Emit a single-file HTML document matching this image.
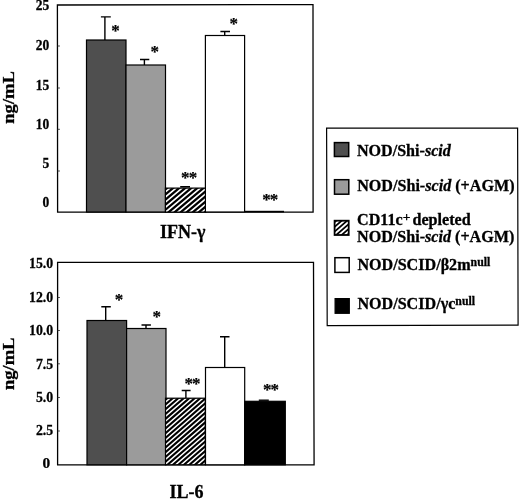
<!DOCTYPE html>
<html lang="en">
<head>
<meta charset="utf-8">
<title>Cytokine production chart</title>
<style>
html,body{margin:0;padding:0;background:#fff;}
body{width:520px;height:499px;overflow:hidden;}
svg{display:block;}
text{font-family:"Liberation Serif","DejaVu Serif",serif;font-weight:bold;fill:#000;}
.tick{font-size:15px;text-anchor:end;stroke:#000;stroke-width:0.3px;}
.tb{font-size:13.7px;stroke:#000;stroke-width:0.25px;}
.ax{font-size:18px;stroke:#000;stroke-width:0.3px;}
.lg{font-size:16.12px;stroke:#000;stroke-width:0.3px;}
.st{font-size:17px;text-anchor:middle;stroke:#000;stroke-width:0.2px;}
.s2{letter-spacing:-0.9px;}
.ln{stroke:#000;stroke-width:1.2;fill:none;}
</style>
</head>
<body>
<svg width="520" height="499" viewBox="0 0 520 499">
<rect x="0" y="0" width="520" height="499" fill="#fff"/>

<!-- ===== top plot ===== -->
<polygon class="ln" style="stroke-width:1.3px" points="57.4,5.0 313.0,4.6 313.1,212.2 57.6,212.2"/>
<g class="ln" style="stroke-width:0.9;stroke:#333">
<line x1="57.6" y1="46" x2="59.9" y2="46"/>
<line x1="57.6" y1="88" x2="59.9" y2="88"/>
<line x1="57.6" y1="129.3" x2="59.9" y2="129.3"/>
<line x1="57.6" y1="171" x2="59.9" y2="171"/>
</g>
<text class="tick" transform="translate(49.3,9.8) scale(0.9,1)">25</text>
<text class="tick" transform="translate(49.3,49.8) scale(0.9,1)">20</text>
<text class="tick" transform="translate(49.3,89.7) scale(0.9,1)">15</text>
<text class="tick" transform="translate(49.3,129.3) scale(0.9,1)">10</text>
<text class="tick" transform="translate(49.3,168) scale(0.9,1)">5</text>
<text class="tick" transform="translate(49.3,207.2) scale(0.9,1)">0</text>

<!-- error bars top -->
<g class="ln" style="stroke-width:1.4">
<path d="M104.9 40V16.9M100.9 16.9H110.8" stroke-width="1.4"/>
<path d="M144.4 65V59.5M140 59.5H149.3"/>
<path d="M180.2 186.8H190" stroke-width="1.6"/>
<path d="M224.7 35.5V31.5M220.4 31.5H230"/>
</g>
<!-- bars top -->
<rect class="ln" x="86.5" y="40" width="39.5" height="172" style="fill:#4f4f4f"/>
<rect class="ln" x="126" y="65" width="39.5" height="147" style="fill:#9b9b9b"/>
<clipPath id="h1"><rect x="165.40" y="188.10" width="40.50" height="24.00"/></clipPath>
<rect x="165.40" y="188.10" width="40.50" height="24.00" fill="#000"/>
<path clip-path="url(#h1)" d="M139.72 203.31L196.79 155.43M142.23 206.30L199.30 158.41M144.73 209.29L201.80 161.40M147.24 212.28L204.31 164.39M149.75 215.26L206.82 167.38M152.26 218.25L209.33 170.36M154.76 221.24L211.83 173.35M157.27 224.23L214.34 176.34M159.78 227.22L216.85 179.33M162.28 230.20L219.35 182.32M164.79 233.19L221.86 185.30M167.30 236.18L224.37 188.29M169.80 239.17L226.87 191.28M172.31 242.15L229.38 194.27M174.82 245.14L231.89 197.25" stroke="#fff" stroke-width="1.65" fill="none"/>
<rect class="ln" style="stroke-width:1.2px" x="165.40" y="188.10" width="40.50" height="24.00"/>

<rect class="ln" x="205.4" y="35.5" width="39.2" height="176.5" style="fill:#fff"/>
<rect x="245" y="210.8" width="39" height="1.6" fill="#000"/>

<text class="st" x="115.5" y="36">*</text>
<text class="st" x="154.8" y="57">*</text>
<text class="st s2" x="188.7" y="183">**</text>
<text class="st" x="233.8" y="29">*</text>
<text class="st s2" x="269.8" y="205">**</text>

<text class="ax" x="160" y="238">IFN-γ</text>
<text class="ax" transform="translate(14,123.7) rotate(-90)" textLength="52.6" lengthAdjust="spacingAndGlyphs" style="font-size:16.5px;stroke:#000;stroke-width:0.3px">ng/mL</text>

<!-- ===== bottom plot ===== -->
<polygon class="ln" style="stroke-width:1.3px" points="57.6,262.4 313.5,262.3 314.1,464.9 57.6,464.8"/>
<g class="ln" style="stroke-width:0.9;stroke:#333">
<line x1="57.6" y1="297.5" x2="59.9" y2="297.5"/>
<line x1="57.6" y1="330.5" x2="59.9" y2="330.5"/>
<line x1="57.6" y1="363.8" x2="59.9" y2="363.8"/>
<line x1="57.6" y1="397.5" x2="59.9" y2="397.5"/>
<line x1="57.6" y1="431" x2="59.9" y2="431"/>
</g>
<text class="tick tb" transform="translate(53.2,268.3) scale(1.01,1)">15.0</text>
<text class="tick tb" transform="translate(53.2,302) scale(1.01,1)">12.0</text>
<text class="tick tb" transform="translate(53.2,335.1) scale(1.01,1)">10.0</text>
<text class="tick tb" transform="translate(53.2,368.5) scale(1.01,1)">7.5</text>
<text class="tick tb" transform="translate(53.2,402) scale(1.01,1)">5.0</text>
<text class="tick tb" transform="translate(53.2,435.2) scale(1.01,1)">2.5</text>
<text class="tick tb" transform="translate(50.2,467.6) scale(1.12,1)">0</text>

<g class="ln" style="stroke-width:1.4">
<path d="M105.7 320.5V306.8M101.3 306.8H110.8"/>
<path d="M146 328.5V325M141.5 325H150.9"/>
<path d="M185.9 398V390.5M181.7 390.5H190.6"/>
<path d="M224.7 367.5V336.8M220 336.8H229.5"/>
<path d="M258.8 400.2H268.8"/>
</g>
<rect class="ln" x="87" y="320.5" width="39.6" height="144.3" style="fill:#4f4f4f"/>
<rect class="ln" x="126.6" y="328.5" width="39.4" height="136.3" style="fill:#9b9b9b"/>
<clipPath id="h2"><rect x="165.50" y="398.20" width="39.80" height="66.60"/></clipPath>
<rect x="165.50" y="398.20" width="39.80" height="66.60" fill="#000"/>
<path clip-path="url(#h2)" d="M113.63 437.65L201.48 361.29M116.00 440.37L203.84 364.01M118.36 443.09L206.21 366.72M120.72 445.81L208.57 369.44M123.08 448.52L210.93 372.16M125.44 451.24L213.29 374.87M127.80 453.96L215.65 377.59M130.17 456.67L218.01 380.31M132.53 459.39L220.38 383.02M134.89 462.11L222.74 385.74M137.25 464.82L225.10 388.46M139.61 467.54L227.46 391.18M141.98 470.26L229.82 393.89M144.34 472.97L232.19 396.61M146.70 475.69L234.55 399.33M149.06 478.41L236.91 402.04M151.42 481.13L239.27 404.76M153.78 483.84L241.63 407.48M156.15 486.56L243.99 410.19M158.51 489.28L246.36 412.91M160.87 491.99L248.72 415.63M163.23 494.71L251.08 418.34M165.59 497.43L253.44 421.06M167.96 500.14L255.80 423.78M170.32 502.86L258.17 426.50" stroke="#fff" stroke-width="1.50" fill="none"/>
<rect class="ln" style="stroke-width:1.2px" x="165.50" y="398.20" width="39.80" height="66.60"/>

<rect class="ln" x="205.5" y="367.5" width="39.2" height="97.3" style="fill:#fff"/>
<rect class="ln" x="244.7" y="401.3" width="40.6" height="63.5" style="fill:#000"/>

<text class="st" x="119.0" y="305">*</text>
<text class="st" x="156.7" y="322">*</text>
<text class="st s2" x="192.0" y="389">**</text>
<text class="st s2" x="270.5" y="395">**</text>

<text class="ax" x="169.6" y="497.9">IL-6</text>
<text class="ax" transform="translate(14,390.1) rotate(-90)" textLength="52.6" lengthAdjust="spacingAndGlyphs" style="font-size:16.5px;stroke:#000;stroke-width:0.3px">ng/mL</text>

<!-- ===== legend ===== -->
<polygon class="ln" points="326.6,128.2 517.6,128.1 518.1,325.1 327.2,325.6"/>
<rect class="ln" x="334.4" y="142.6" width="14.3" height="13.9" style="stroke-width:1.5px;fill:#4f4f4f"/>
<rect class="ln" x="334.5" y="179.7" width="14.3" height="14.5" style="stroke-width:1.5px;fill:#9b9b9b"/>
<clipPath id="h3"><rect x="334.60" y="220.70" width="14.10" height="14.30"/></clipPath>
<rect x="334.60" y="220.70" width="14.10" height="14.30" fill="#000"/>
<path clip-path="url(#h3)" d="M317.72 229.59L346.70 204.40M320.08 232.31L349.06 207.11M322.45 235.02L351.43 209.83M324.81 237.74L353.79 212.55M327.17 240.46L356.15 215.26M329.53 243.17L358.51 217.98M331.89 245.89L360.87 220.70M334.25 248.61L363.24 223.42M336.62 251.33L365.60 226.13" stroke="#fff" stroke-width="1.80" fill="none"/>
<rect class="ln" style="stroke-width:1.8px" x="334.60" y="220.70" width="14.10" height="14.30"/>

<rect class="ln" x="334.9" y="257.7" width="14.3" height="14.7" style="stroke-width:1.5px;fill:#fff"/>
<rect class="ln" x="335.1" y="298.6" width="14.2" height="14.7" style="fill:#000"/>

<text class="lg" x="356.9" y="155.9">NOD/Shi-<tspan font-style="italic">scid</tspan></text>
<text class="lg" x="357.2" y="191.0">NOD/Shi-<tspan font-style="italic">scid</tspan> (+AGM)</text>
<text class="lg" x="357.0" y="224.6">CD11c<tspan font-size="13.5" dy="-3.6">+</tspan><tspan dy="3.6" dx="-1.9"> depleted</tspan></text>
<text class="lg" x="357.0" y="242.4">NOD/Shi-<tspan font-style="italic">scid</tspan> (+AGM)</text>
<text class="lg" x="357.4" y="270.2">NOD/SCID/β2m<tspan font-size="11.8" dy="-4.1">null</tspan></text>
<text class="lg" x="357.4" y="309.4">NOD/SCID/γc<tspan font-size="11.8" dy="-4.1">null</tspan></text>
</svg>
</body>
</html>
